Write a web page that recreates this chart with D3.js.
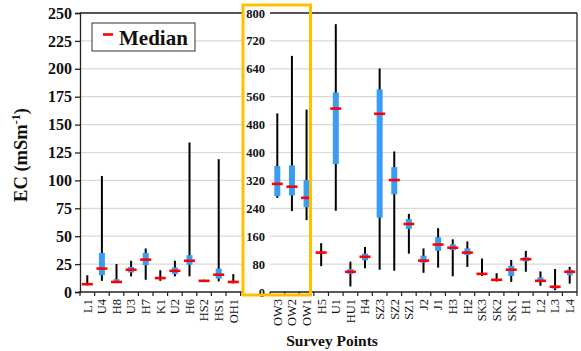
<!DOCTYPE html>
<html>
<head>
<meta charset="utf-8">
<script src="https://cdn.jsdelivr.net/npm/d3@7"></script>
<style>
  body { margin: 0; background: #fff; }
  text { font-family: "Liberation Serif", "Times New Roman", serif; fill: #111; }
</style>
</head>
<body>
<svg id="chart" width="581" height="351"></svg>
<script>
// Low-EC survey points (0–250 mS/m scale)
const lowSites  = ["L1","U4","H8","U3","H7","K1","U2","H6","HS2","HS1","OH1"];
const lowMin    = [6,   10,  8,   14,  11,  10,  14,  14,  9.5, 9.5, 7.8];
const lowQ1     = [6.5, 15,  8.5, 17.5,24,  11.5,16,  24.5,9.8, 12,  8];
const lowMedian = [7,   21,  9,   20,  29,  12.5,19,  28,  10,  15.5,9];
const lowQ3     = [8,   35,  11.5,22.5,35,  13.5,22,  33,  10.3,21,  10];
const lowMax    = [15,  104, 25,  28,  39,  19.5,28,  134, 11,  119, 16];
const lowTicks  = [0,25,50,75,100,125,150,175,200,225,250];

// High-EC survey points (0–800 mS/m scale)
const highSites  = ["OW3","OW2","OW1","H5","U1","HU1","H4","SZ3","SZ2","SZ1","J2","J1","H3","H2","SK3","SK2","SK1","H1","L2","L3","L4"];
const highMin    = [270, 232, 206, 74,  233, 16, 68,  64,  61,  110, 55,  70,  45,  72,  46, 30, 29, 58,  18, 5,  24];
const highQ1     = [275, 277, 243, 111, 367, 52, 91,  213, 280, 181, 84,  118, 120, 106, 51, 34, 46, 88,  30, 10, 48];
const highMedian = [310, 302, 270, 113, 526, 58, 101, 511, 321, 195, 90,  136, 127, 113, 52, 35, 64, 94,  32, 15, 58];
const highQ3     = [361, 363, 321, 115, 572, 66, 110, 581, 358, 209, 104, 157, 137, 125, 53, 36, 75, 100, 42, 18, 64];
const highMax    = [512, 677, 523, 140, 768, 87, 129, 641, 403, 224, 125, 183, 151, 145, 96, 54, 92, 118, 59, 66, 72];
const highTicks  = [0,80,160,240,320,400,480,560,640,720,800];

const SERIF = "Liberation Serif, Times New Roman, serif";
const svg = d3.select("#chart");
const yTop = 13, yBottom = 292;
const lowX0 = 80, lowX1 = 240.6, highX0 = 270, highX1 = 577;

const yLow  = d3.scaleLinear().domain([0, 250]).range([yBottom, yTop]);
const yHigh = d3.scaleLinear().domain([0, 800]).range([yBottom, yTop]);
const xLow  = d3.scaleBand().domain(lowSites).range([lowX0, lowX1]);
const xHigh = d3.scaleBand().domain(highSites).range([highX0, highX1]);

const GRID = "#d9d9d9", BOX = "#3a9cf3", MED = "#ff0000", AXIS = "#222";

// gridlines
svg.append("g").selectAll("line").data(lowTicks.filter(t => t > 0)).join("line")
  .attr("x1", lowX0).attr("x2", 242).attr("y1", d => yLow(d)).attr("y2", d => yLow(d))
  .attr("stroke", GRID).attr("stroke-width", 1.2);
svg.append("g").selectAll("line").data(highTicks.filter(t => t > 0)).join("line")
  .attr("x1", highX0).attr("x2", highX1).attr("y1", d => yHigh(d)).attr("y2", d => yHigh(d))
  .attr("stroke", GRID).attr("stroke-width", 1.2);

// plot frames
const frame = svg.append("g").attr("stroke", AXIS).attr("stroke-width", 1.3).attr("fill", "none");
frame.append("line").attr("x1", lowX0).attr("x2", 242).attr("y1", yTop).attr("y2", yTop);
frame.append("line").attr("x1", highX0).attr("x2", highX1).attr("y1", yTop).attr("y2", yTop);
frame.append("line").attr("x1", highX1).attr("x2", highX1).attr("y1", yTop).attr("y2", yBottom);
frame.append("line").attr("x1", lowX0 - 1).attr("x2", 242).attr("y1", yBottom).attr("y2", yBottom);
frame.append("line").attr("x1", highX0).attr("x2", highX1).attr("y1", yBottom).attr("y2", yBottom);

// left y axis
const axL = svg.append("g").attr("transform", `translate(${lowX0},0)`)
  .call(d3.axisLeft(yLow).tickValues(lowTicks).tickSize(5).tickPadding(3))
  .attr("font-family", SERIF).attr("font-size", 16).attr("font-weight", "bold");
axL.select(".domain").attr("stroke", AXIS).attr("stroke-width", 1.3);
axL.selectAll(".tick line").attr("stroke", AXIS).attr("stroke-width", 1.3);
axL.selectAll("text").attr("fill", "#111");

// right-hand scale labels (0–800)
const axR = svg.append("g").attr("transform", `translate(${highX0},0)`)
  .call(d3.axisLeft(yHigh).tickValues(highTicks).tickSize(0).tickPadding(5))
  .attr("font-family", SERIF).attr("font-size", 12.5).attr("font-weight", "bold");
axR.select(".domain").remove();
axR.selectAll("text").attr("fill", "#111");

// category axes
function catAxis(scale) {
  const g = svg.append("g").attr("transform", `translate(0,${yBottom})`)
    .call(d3.axisBottom(scale).tickSize(0))
    .attr("font-family", SERIF).attr("font-size", 12.5);
  g.select(".domain").remove();
  g.selectAll("text")
    .attr("transform", "rotate(-90)")
    .attr("x", -7).attr("y", 0).attr("dy", "0.35em")
    .attr("text-anchor", "end")
    .attr("fill", "#111");
  const edges = d3.range(scale.domain().length + 1).map(k => scale.range()[0] + k * scale.step());
  svg.append("g").selectAll("line").data(edges).join("line")
    .attr("x1", d => d).attr("x2", d => d).attr("y1", yBottom).attr("y2", yBottom + 4)
    .attr("stroke", AXIS).attr("stroke-width", 1.2);
}
catAxis(xLow);
catAxis(xHigh);

// box plots
function boxes(sites, mins, q1s, meds, q3s, maxs, x, y) {
  const rows = sites.map((s, i) => ({ s, min: mins[i], q1: q1s[i], med: meds[i], q3: q3s[i], max: maxs[i] }));
  const g = svg.append("g");
  const cx = d => x(d.s) + x.bandwidth() / 2;
  g.selectAll(".whisker").data(rows).join("line").attr("class", "whisker")
    .attr("x1", cx).attr("x2", cx).attr("y1", d => y(d.max)).attr("y2", d => y(d.min))
    .attr("stroke", "#000").attr("stroke-width", 2);
  g.selectAll(".box").data(rows).join("rect").attr("class", "box")
    .attr("x", d => cx(d) - 3).attr("width", 6)
    .attr("y", d => y(d.q3)).attr("height", d => Math.max(0, y(d.q1) - y(d.q3)))
    .attr("fill", BOX);
  g.selectAll(".median").data(rows).join("rect").attr("class", "median")
    .attr("x", d => cx(d) - 5.5).attr("width", 11)
    .attr("y", d => y(d.med) - 1.3).attr("height", 2.6)
    .attr("fill", MED);
}
boxes(lowSites, lowMin, lowQ1, lowMedian, lowQ3, lowMax, xLow, yLow);
boxes(highSites, highMin, highQ1, highMedian, highQ3, highMax, xHigh, yHigh);

// frame around the OW wells
svg.append("rect").attr("x", 243).attr("y", 5).attr("width", 67.5).attr("height", 290)
  .attr("fill", "none").attr("stroke", "#ffc000").attr("stroke-width", 3);

// legend
const leg = svg.append("g");
leg.append("rect").attr("x", 92).attr("y", 23).attr("width", 103).attr("height", 28)
  .attr("fill", "#fff").attr("stroke", "#333").attr("stroke-width", 1);
leg.append("line").attr("x1", 103).attr("x2", 113).attr("y1", 34.5).attr("y2", 34.5)
  .attr("stroke", MED).attr("stroke-width", 2.6);
leg.append("text").attr("x", 119).attr("y", 44.5)
  .style("font-size", "21px").style("font-weight", "bold").text("Median");

// axis titles
const yt = svg.append("text").attr("transform", "translate(27,155) rotate(-90)")
  .attr("text-anchor", "middle").style("font-size", "18.5px").style("font-weight", "bold");
yt.append("tspan").text("EC (mSm");
yt.append("tspan").attr("dy", -7).style("font-size", "12px").text("-1");
yt.append("tspan").attr("dy", 7).text(")");

svg.append("text").attr("x", 332).attr("y", 346).attr("text-anchor", "middle")
  .style("font-size", "15.5px").style("font-weight", "bold").text("Survey Points");
</script>
</body>
</html>
